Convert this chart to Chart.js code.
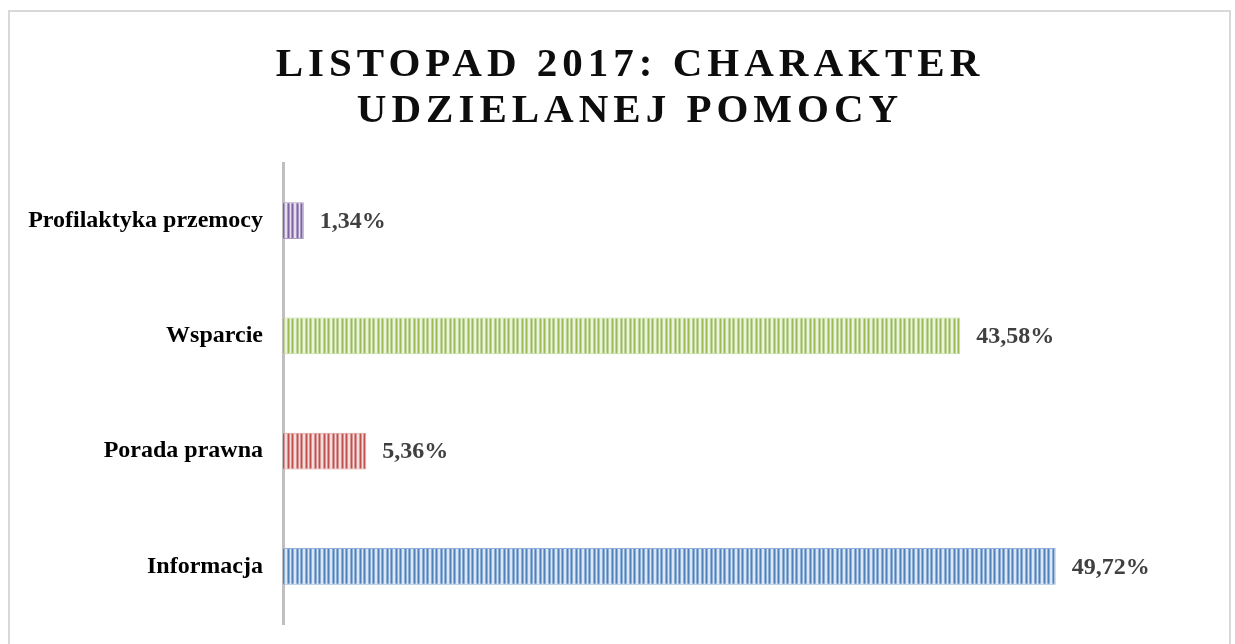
<!DOCTYPE html>
<html lang="pl">
<head>
    <meta charset="UTF-8">
    <title>Listopad 2017: charakter udzielanej pomocy</title>
    <script src="https://cdn.jsdelivr.net/npm/chart.js"></script>
    <style>
        body { margin: 0; background: #ffffff; }
        canvas { display: block; }
    </style>
</head>
<body>
    <canvas id="chart" width="1235" height="644"></canvas>

    <script>
        // data (first item is drawn at the bottom, like in Excel)
        const categories = ['Informacja', 'Porada prawna', 'Wsparcie', 'Profilaktyka przemocy'];
        const values = [49.72, 5.36, 43.58, 1.34];
        const titleLines = ['LISTOPAD 2017: CHARAKTER', 'UDZIELANEJ POMOCY'];

        // striped fill: [dark, mid, light]
        const palette = [
            ['#4f81bd', '#8eafd8', '#dde7f3'],
            ['#c0504d', '#d99694', '#f4dedd'],
            ['#9bbb59', '#c0d698', '#ecf3df'],
            ['#8064a2', '#ab9ac5', '#e6e0ee']
        ];

        const stripes = (c) => {
            const tile = document.createElement('canvas');
            tile.width = 9;
            tile.height = 1;
            const t = tile.getContext('2d');
            const seq = [0, 1, 2, 1, 0, 1, 2, 2, 1];
            seq.forEach((k, i) => {
                t.fillStyle = c[k];
                t.fillRect(i, 0, 1, 1);
            });
            return t.createPattern(tile, 'repeat');
        };

        const frameAndTitle = {
            id: 'frameAndTitle',
            beforeDraw(chart) {
                const ctx = chart.ctx;
                ctx.save();
                ctx.strokeStyle = '#d9d9d9';
                ctx.lineWidth = 2;
                ctx.strokeRect(9, 11, 1221, 700);
                ctx.fillStyle = '#0d0d0d';
                ctx.font = 'bold 41px "Liberation Serif", "Times New Roman", serif';
                ctx.letterSpacing = '5px';
                ctx.textAlign = 'center';
                ctx.textBaseline = 'alphabetic';
                ctx.fillText(titleLines[0], 630, 76);
                ctx.fillText(titleLines[1], 630, 122);
                ctx.restore();
            }
        };

        const valueLabels = {
            id: 'valueLabels',
            afterDatasetsDraw(chart) {
                const ctx = chart.ctx;
                const meta = chart.getDatasetMeta(0);
                ctx.save();
                ctx.fillStyle = '#404040';
                ctx.font = 'bold 24px "Liberation Serif", "Times New Roman", serif';
                ctx.textAlign = 'left';
                ctx.textBaseline = 'middle';
                meta.data.forEach((bar, i) => {
                    const txt = values[i].toFixed(2).replace('.', ',') + '%';
                    ctx.fillText(txt, bar.x + 16, bar.y + 1);
                });
                ctx.restore();
            }
        };

        const ctx = document.getElementById('chart').getContext('2d');
        new Chart(ctx, {
            type: 'bar',
            data: {
                labels: categories,
                datasets: [{
                    data: values,
                    backgroundColor: palette.map(stripes),
                    borderColor: palette.map(c => c[1]),
                    borderWidth: 1,
                    barPercentage: 0.64,
                    categoryPercentage: 0.5
                }]
            },
            options: {
                indexAxis: 'y',
                responsive: false,
                animation: false,
                layout: { padding: { top: 163, bottom: 20, right: 175, left: 0 } },
                plugins: {
                    legend: { display: false },
                    title: { display: false },
                    tooltip: { enabled: false }
                },
                scales: {
                    x: {
                        display: false,
                        min: 0,
                        max: 50
                    },
                    y: {
                        reverse: true,
                        afterFit: (scale) => {
                            scale.width = 283;
                            scale.paddingTop = 0;
                            scale.paddingBottom = 0;
                        },
                        grid: { display: false, drawTicks: false },
                        border: { display: true, color: '#bfbfbf', width: 3 },
                        ticks: {
                            padding: 20,
                            color: '#000000',
                            font: { family: '"Liberation Serif", "Times New Roman", serif', size: 24, weight: 'bold' }
                        }
                    }
                }
            },
            plugins: [frameAndTitle, valueLabels]
        });
    </script>
</body>
</html>
